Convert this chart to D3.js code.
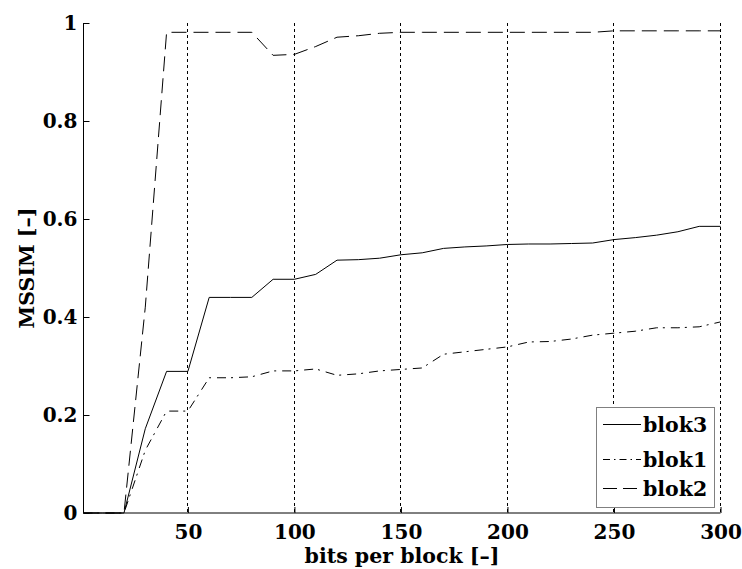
<!DOCTYPE html>
<html>
<head>
<meta charset="utf-8">
<script src="https://cdn.jsdelivr.net/npm/d3@7"></script>
<style>
  html, body { margin: 0; padding: 0; background: #fff; }
  svg { display: block; }
  text { font-family: "DejaVu Serif", serif; font-weight: bold; fill: #000; }
</style>
</head>
<body>
<svg id="chart" width="742" height="569"></svg>
<script>
// bits per block (x)
const bits = [1, 10, 20, 30, 40, 50, 60, 70, 80, 90, 100, 110, 120, 130, 140, 150,
  160, 170, 180, 190, 200, 210, 220, 230, 240, 250, 260, 270, 280, 290, 300];

// MSSIM for each block
const blok3 = [0, 0, 0, 0.172, 0.289, 0.289, 0.44, 0.44, 0.44, 0.477, 0.477, 0.487, 0.516, 0.517, 0.52, 0.527,
  0.531, 0.54, 0.543, 0.545, 0.548, 0.549, 0.549, 0.55, 0.551, 0.558, 0.562, 0.567, 0.574, 0.585, 0.585];
const blok1 = [0, 0, 0, 0.128, 0.208, 0.208, 0.276, 0.276, 0.278, 0.29, 0.29, 0.294, 0.281, 0.284, 0.29, 0.293,
  0.296, 0.324, 0.329, 0.334, 0.339, 0.349, 0.35, 0.355, 0.363, 0.367, 0.371, 0.378, 0.378, 0.38, 0.39];
const blok2 = [0, 0, 0, 0.42, 0.981, 0.981, 0.981, 0.981, 0.981, 0.934, 0.936, 0.952, 0.971, 0.974, 0.979, 0.981,
  0.981, 0.981, 0.981, 0.981, 0.981, 0.981, 0.981, 0.981, 0.981, 0.984, 0.984, 0.984, 0.984, 0.984, 0.984];

const xTicks = [50, 100, 150, 200, 250, 300];
const yTicks = [0, 0.2, 0.4, 0.6, 0.8, 1];

const seriesNames = ["blok3", "blok1", "blok2"];
const seriesData = [blok3, blok1, blok2];
const seriesDash = [null, "9,5,2,6", "15,7"];
const legendDash = [null, "7,4,1.5,4", "14,6"];

const svg = d3.select("#chart");
const m = { left: 83.5, right: 720.5, top: 23, bottom: 513 };

const x = d3.scaleLinear().domain([1, 300]).range([m.left, m.right]);
const y = d3.scaleLinear().domain([0, 1]).range([m.bottom, m.top]);

// vertical dotted grid
svg.append("g")
  .selectAll("line")
  .data(xTicks)
  .join("line")
  .attr("x1", d => x(d)).attr("x2", d => x(d))
  .attr("y1", m.top).attr("y2", m.bottom)
  .attr("stroke", "#000")
  .attr("stroke-width", 1)
  .attr("stroke-dasharray", "3,3")
  .attr("shape-rendering", "crispEdges");

// series lines
const line = d3.line().x((d, i) => x(bits[i])).y(d => y(d));
seriesData.forEach((s, k) => {
  svg.append("path")
    .datum(s)
    .attr("d", line)
    .attr("fill", "none")
    .attr("stroke", "#000")
    .attr("stroke-width", 1)
    .attr("stroke-dasharray", seriesDash[k]);
});

// y axis: ticks pointing inward
const yAxis = svg.append("g")
  .attr("transform", `translate(${m.left},0)`)
  .call(d3.axisRight(y).tickValues(yTicks).tickSize(6).tickFormat(d => d === 0 || d === 1 ? d3.format("d")(d) : d3.format(".1f")(d)));
yAxis.select(".domain").attr("d", `M0,${m.top}V${m.bottom}`).attr("stroke", "#000");
yAxis.selectAll("text")
  .attr("x", -6)
  .attr("text-anchor", "end")
  .attr("font-size", 20)
  .attr("font-family", "DejaVu Serif")
  .attr("font-weight", "bold");

// x axis: ticks pointing inward
const xAxis = svg.append("g")
  .attr("transform", `translate(0,${m.bottom})`)
  .call(d3.axisTop(x).tickValues(xTicks).tickSize(6));
xAxis.select(".domain").attr("d", `M${m.left},0H${m.right}`).attr("stroke", "#000");
xAxis.selectAll("text")
  .attr("y", 26)
  .attr("dy", 0)
  .attr("font-size", 20)
  .attr("font-family", "DejaVu Serif")
  .attr("font-weight", "bold");

// axis titles
svg.append("text")
  .attr("x", (m.left + m.right) / 2)
  .attr("y", 563)
  .attr("text-anchor", "middle")
  .attr("font-size", 20.5)
  .text("bits per block [–]");

svg.append("text")
  .attr("transform", `translate(34,${(m.top + m.bottom) / 2}) rotate(-90)`)
  .attr("text-anchor", "middle")
  .attr("font-size", 20.5)
  .text("MSSIM [–]");

// legend
const lg = svg.append("g");
lg.append("rect")
  .attr("x", 596.5).attr("y", 407.5)
  .attr("width", 118).attr("height", 100)
  .attr("fill", "#fff")
  .attr("stroke", "#808080")
  .attr("stroke-width", 1);
const rowY = [424.5, 459.5, 488.5];
seriesNames.forEach((name, k) => {
  lg.append("line")
    .attr("x1", 603).attr("x2", 641)
    .attr("y1", rowY[k]).attr("y2", rowY[k])
    .attr("stroke", "#000")
    .attr("stroke-width", 1)
    .attr("stroke-dasharray", legendDash[k]);
  lg.append("text")
    .attr("x", 643)
    .attr("y", rowY[k] + 7.5)
    .attr("font-size", 20.5)
    .text(name);
});
</script>
</body>
</html>
